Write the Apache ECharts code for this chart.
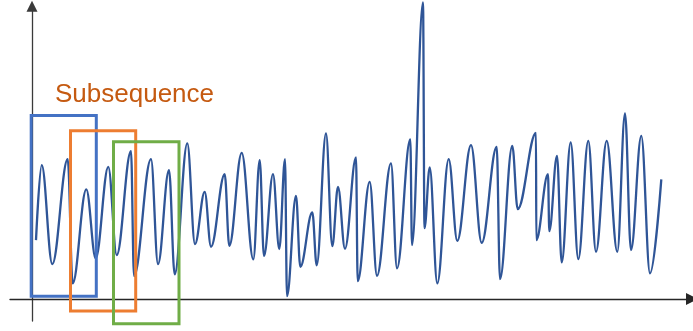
<!DOCTYPE html>
<html>
<head>
<meta charset="utf-8">
<script src="https://cdn.jsdelivr.net/npm/echarts@6/dist/echarts.min.js"></script>
<style>
html,body{margin:0;padding:0;background:#fff;}
#chart{width:693px;height:331px;}
</style>
</head>
<body>
<div id="chart"></div>
<script>
// time positions of the turning points of the series
var times = [4, 9.7, 20.3, 35.7, 40.7, 54.3, 63.7, 76.3, 84.7, 99, 102, 119, 126, 137, 142.7,
  155.3, 163, 172.7, 179, 192.7, 197.3, 209.7, 221.3, 227.7, 232, 241, 247.3, 253, 255, 264,
  268.3, 280.3, 284.7, 294, 300.3, 306, 313, 324, 325.7, 337.7, 345, 359, 365, 378.3, 380,
  391, 392.5, 397.7, 405.3, 416.7, 425.3, 439, 449.7, 464.7, 468, 480.3, 485.7, 504, 504.3,
  516, 517.3, 525, 529.7, 538.7, 546.3, 556.3, 564, 574.7, 585.3, 593, 599, 609.3, 618, 629.3];
// values at those turning points
var values = [59, 134, 35, 140, 15.7, 109.7, 40.7, 132.3, 44, 148, 23, 140, 35, 129, 24.7,
  155.7, 55, 107.3, 52.3, 125, 53.3, 146.3, 39.7, 139, 43, 125, 50, 140, 3, 103.3,
  32.3, 86.7, 33.7, 165.7, 53, 112.3, 50.3, 141.7, 18, 117.3, 23.3, 135.7, 30.7, 159.7, 54,
  297, 71, 131.7, 15.7, 140, 58.3, 154, 56.3, 152.3, 20, 153.3, 90, 166.3, 59,
  125, 68, 143.3, 36.7, 156.7, 40, 158.3, 47.3, 158.3, 47.3, 185.7, 49, 163.3, 25.7, 119.7];
// subsequence windows (sliding windows of equal length)
var windowStart = [-0.8, 38.5, 81.5];
var windowEnd = [64.3, 103.7, 147];
var windowLow = [2.7, -12, -24.8];
var windowHigh = [183.7, 168.5, 157.5];
var windowColors = ['#4472C4', '#ED7D31', '#70AD47'];
var labelText = 'Subsequence';

var chart = echarts.init(document.getElementById('chart'), null, {renderer: 'canvas'});
var option = {
  animation: false,
  grid: {left: 10, right: 1, top: 6.3, bottom: 10},
  xAxis: {
    type: 'value', min: -22, max: 660,
    axisLine: {show: true, onZero: true, lineStyle: {color: '#262626', width: 1.3},
      symbol: ['none', 'triangle'], symbolSize: [12, 12]},
    axisTick: {show: false}, axisLabel: {show: false}, splitLine: {show: false}
  },
  yAxis: {
    type: 'value', min: -22, max: 293,
    axisLine: {show: true, onZero: true, lineStyle: {color: '#3a3a3a', width: 1.3},
      symbol: ['none', 'triangle'], symbolSize: [11, 11]},
    axisTick: {show: false}, axisLabel: {show: false}, splitLine: {show: false}
  },
  series: [{
    type: 'line',
    data: times.map(function (t, i) { return [t, values[i]]; }),
    smooth: 0.37,
    smoothMonotone: 'x',
    showSymbol: false,
    clip: false,
    lineStyle: {color: '#2F5597', width: 2.3},
    z: 2
  }]
};
chart.setOption(option);

var graphics = [];
for (var i = 0; i < windowStart.length; i++) {
  var p1 = chart.convertToPixel({gridIndex: 0}, [windowStart[i], windowHigh[i]]);
  var p2 = chart.convertToPixel({gridIndex: 0}, [windowEnd[i], windowLow[i]]);
  graphics.push({
    type: 'rect',
    shape: {x: p1[0], y: p1[1], width: p2[0] - p1[0], height: p2[1] - p1[1]},
    style: {fill: 'none', stroke: windowColors[i], lineWidth: 3},
    z: 10 + i
  });
}
graphics.push({
  type: 'text',
  x: 55, y: 95,
  style: {text: labelText, fill: '#C55A11', font: '26px "Liberation Sans", Arial, sans-serif',
    align: 'left', verticalAlign: 'middle'},
  z: 20
});
chart.setOption({graphic: graphics});
</script>
</body>
</html>
